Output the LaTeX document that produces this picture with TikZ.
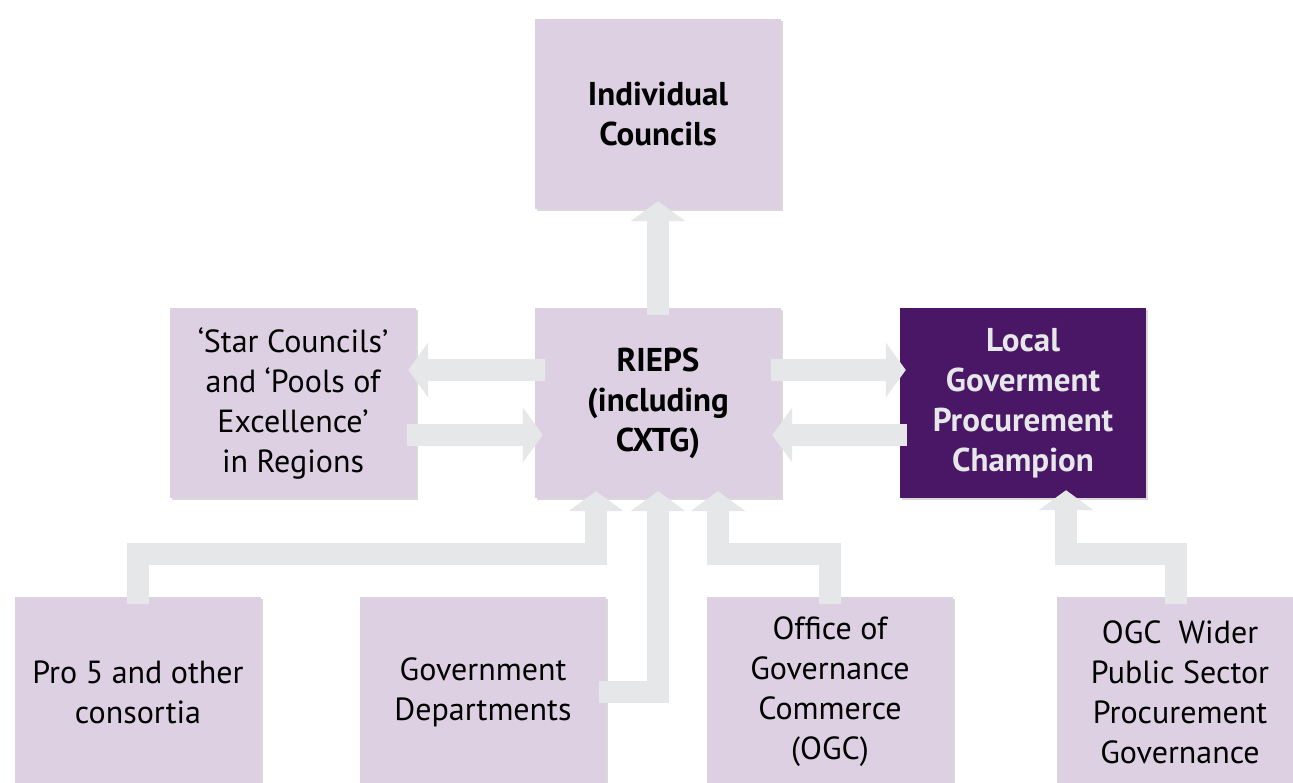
\documentclass[tikz,border=0pt]{standalone}
\usepackage{fontspec}
\setmainfont{PT Sans}
\usetikzlibrary{arrows.meta,shadows}
\definecolor{boxlilac}{HTML}{DCD0E2}
\definecolor{champpurple}{HTML}{4A1766}
\definecolor{arrowgrey}{HTML}{E6E7E8}
\begin{document}
\begin{tikzpicture}[x=1pt,y=-1pt,
  unit/.style={fill=boxlilac, minimum width=246pt, minimum height=190pt, inner sep=0pt,
    align=center, font=\fontsize{32}{40}\selectfont,
    drop shadow={shadow xshift=2pt, shadow yshift=-2pt, opacity=0.3}},
  keyunit/.style={unit, font=\fontsize{33}{40}\selectfont\bfseries},
  champ/.style={keyunit, fill=champpurple, text=arrowgrey},
  flow/.style={draw=arrowgrey, line width=22pt, -{Triangle[width=54pt,length=20pt]}}]
\useasboundingbox (0,0) rectangle (1293,782);
\clip (0,0) rectangle (1293,782);
% boxes
\node[keyunit] (ic) at (658,114) {Individual\\Councils};
\node[keyunit] (rieps) at (658,403) {RIEPS\\(including\\CXTG)};
\node[unit] (star) at (293,403) {‘Star Councils’\\and ‘Pools of\\Excellence’\\in Regions};
\node[champ] (lgpc) at (1023,403) {Local\\Goverment\\Procurement\\Champion};
\node[unit] (pro) at (138,692) {Pro 5 and other\\consortia};
\node[unit] (gov) at (483,692) {Government\\Departments};
\node[unit] (ogc) at (830,692) {Office of\\Governance\\Commerce\\(OGC)};
\node[unit] (wider) at (1180,692) {OGC~ Wider\\Public Sector\\Procurement\\Governance};
\coordinate (bend) at (0,547);
% arrows
\draw[flow] ([yshift=-7pt]rieps.north) -- ([yshift=8pt]ic.south);
\draw[flow] ([xshift=10pt,yshift=33pt]rieps.west) -- ([xshift=-8pt,yshift=33pt]star.east);
\draw[flow] ([xshift=-9pt,yshift=-32pt]star.east) -- ([xshift=8pt,yshift=-32pt]rieps.west);
\draw[flow] ([xshift=-10pt,yshift=33pt]rieps.east) -- ([xshift=6pt,yshift=33pt]lgpc.west);
\draw[flow] ([xshift=7pt,yshift=-32pt]lgpc.west) -- ([xshift=-9pt,yshift=-32pt]rieps.east);
\draw[flow] ([yshift=-7pt]pro.north) -- ([yshift=-7pt]pro.north |- bend) -| ([xshift=-62pt,yshift=7pt]rieps.south);
\draw[flow] ([xshift=-7pt]gov.east) -| ([yshift=7pt]rieps.south);
\draw[flow] ([yshift=-7pt]ogc.north) -- ([yshift=-7pt]ogc.north |- bend) -| ([xshift=60pt,yshift=7pt]rieps.south);
\draw[flow] ([xshift=-4pt,yshift=-7pt]wider.north) -- ([xshift=-4pt,yshift=-7pt]wider.north |- bend) -| ([xshift=43pt,yshift=8pt]lgpc.south);
\end{tikzpicture}
\end{document}
